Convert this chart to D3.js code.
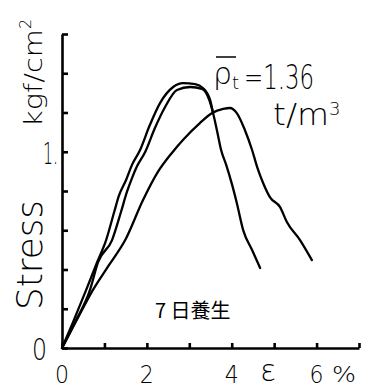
<!DOCTYPE html>
<html><head><meta charset="utf-8">
<script src="https://cdn.jsdelivr.net/npm/d3@7"></script>
<style>body{margin:0;background:#fff;} svg{display:block;}</style>
</head><body>
<svg id="c" width="372" height="390"></svg>
<script>
// curve 1 (outer rising branch)
const c1x = [0,0.26,0.57,0.83,1.04,1.23,1.34,1.51,1.65,1.84,2.07,2.31,2.62,2.85,3.14,3.32,3.49,3.56];
const c1y = [0,0.132,0.296,0.438,0.550,0.693,0.775,0.856,0.933,1.009,1.136,1.248,1.330,1.350,1.345,1.325,1.264,1.197];
// curve 2
const c2x = [0,0.31,0.66,0.85,1.18,1.39,1.53,1.65,1.77,1.96,2.19,2.43,2.71,3.02,3.30,3.47,3.56,3.65,3.75,3.87,4.01,4.12,4.27,4.48,4.67];
const c2y = [0,0.132,0.296,0.438,0.550,0.693,0.795,0.866,0.927,0.999,1.121,1.228,1.315,1.330,1.320,1.264,1.197,1.111,1.009,0.933,0.831,0.739,0.601,0.499,0.408];
// curve 3
const c3x = [0,0.31,0.73,1.11,1.49,1.91,2.26,2.59,2.85,3.25,3.54,3.80,3.96,4.12,4.31,4.48,4.60,4.74,4.90,5.14,5.30,5.61,5.89];
const c3y = [0,0.127,0.296,0.423,0.550,0.754,0.897,0.994,1.060,1.146,1.197,1.218,1.223,1.197,1.111,1.009,0.922,0.841,0.769,0.718,0.642,0.550,0.448];

const xTicks = [0,1,2,3,4,5,6,7];
const xTickLabels = ["0","","2","","4","","6",""];
const yTicks = [0,0.2,0.4,0.6,0.8,1.0,1.2,1.4,1.6];
const yTickLabels = ["0","","","","","1.","","",""];
const xUnit = "%";
const xTitle = "ε";
const yTitle = "Stress";
const yUnit = "kgf/cm";
const densityText = "=1.36";
const densityUnit = "t/m";
const curingText = "7 日養生";

const svg = d3.select("#c");
const x = d3.scaleLinear().domain([0,7]).range([62,359]);
const y = d3.scaleLinear().domain([0,1.6]).range([348,34]);
const font = "'DejaVu Sans', 'Liberation Sans', sans-serif";
const fw = 200;

// axes
const gx = svg.append("g").attr("transform",`translate(0,${y(0)})`)
  .call(d3.axisBottom(x).tickValues(xTicks).tickSizeInner(-5).tickSizeOuter(0).tickFormat(""));
const gy = svg.append("g").attr("transform",`translate(${x(0)},0)`)
  .call(d3.axisLeft(y).tickValues(yTicks).tickSizeInner(-6).tickSizeOuter(0).tickFormat(""));
[gx,gy].forEach(g=>{
  g.select(".domain").attr("stroke","#000").attr("stroke-width",2.6);
  g.selectAll(".tick line").attr("stroke","#000").attr("stroke-width",2.6);
});

// x tick labels
svg.append("g").selectAll("text").data(xTicks.filter((d,i)=>xTickLabels[i]!==""))
  .join("text")
  .attr("x",d=>x(d)).attr("y",383)
  .attr("text-anchor","middle")
  .attr("font-family",font).attr("font-weight",fw).attr("font-size",24)
  .attr("textLength",14).attr("lengthAdjust","spacingAndGlyphs")
  .text(d=>xTickLabels[xTicks.indexOf(d)]);
svg.append("text").attr("x",344).attr("y",382).attr("text-anchor","middle")
  .attr("font-family",font).attr("font-weight",fw).attr("font-size",22)
  .attr("textLength",24).attr("lengthAdjust","spacingAndGlyphs").text(xUnit);
svg.append("text").attr("x",268).attr("y",381).attr("text-anchor","middle")
  .attr("font-family",font).attr("font-weight",fw).attr("font-size",30).text(xTitle);

// y tick labels
svg.append("text").attr("x",47).attr("y",y(0)+12).attr("text-anchor","end")
  .attr("font-family",font).attr("font-weight",fw).attr("font-size",31)
  .attr("textLength",15).attr("lengthAdjust","spacingAndGlyphs").text(yTickLabels[0]);
svg.append("text").attr("x",58).attr("y",y(1.0)+12).attr("text-anchor","end")
  .attr("font-family",font).attr("font-weight",fw).attr("font-size",30)
  .attr("textLength",15).attr("lengthAdjust","spacingAndGlyphs").text(yTickLabels[5]);

// y title
svg.append("text").attr("transform","translate(42,255) rotate(-90)")
  .attr("text-anchor","middle").attr("font-family",font).attr("font-weight",fw).attr("font-size",36)
  .attr("textLength",110).attr("lengthAdjust","spacingAndGlyphs").text(yTitle);
const ku = svg.append("text").attr("transform","translate(42,127) rotate(-90)")
  .attr("text-anchor","start").attr("font-family",font).attr("font-weight",fw).attr("font-size",24);
ku.append("tspan").attr("textLength",98).attr("lengthAdjust","spacingAndGlyphs").text(yUnit);
ku.append("tspan").attr("font-size",16).attr("dy",-11).text("2");

// density annotation
const dg = svg.append("g");
dg.append("text").attr("x",213).attr("y",84).attr("font-family",font).attr("font-weight",fw).attr("font-size",30)
  .text("ρ");
dg.append("line").attr("x1",216).attr("x2",236).attr("y1",57).attr("y2",57).attr("stroke","#000").attr("stroke-width",1.5);
dg.append("text").attr("x",232).attr("y",89).attr("font-family",font).attr("font-weight",fw).attr("font-size",18).text("t");
dg.append("text").attr("x",244).attr("y",89).attr("font-family",font).attr("font-weight",fw).attr("font-size",34)
  .attr("textLength",70).attr("lengthAdjust","spacingAndGlyphs").text(densityText);
const du = dg.append("text").attr("x",273).attr("y",125).attr("font-family",font).attr("font-weight",fw).attr("font-size",30);
du.append("tspan").attr("textLength",56).attr("lengthAdjust","spacingAndGlyphs").text(densityUnit);
du.append("tspan").attr("font-size",18).attr("dy",-10).text("3");

// curing label
svg.append("text").attr("x",155).attr("y",318).attr("font-family","'Noto Sans CJK JP', sans-serif")
  .attr("font-size",20).text(curingText);

// curves
const line = d3.line().x(d=>x(d[0])).y(d=>y(d[1])).curve(d3.curveMonotoneX);
[[c1x,c1y],[c2x,c2y],[c3x,c3y]].forEach(([xs,ys])=>{
  svg.append("path").datum(xs.map((v,i)=>[v,ys[i]]))
    .attr("d",line).attr("fill","none").attr("stroke","#000").attr("stroke-width",2.3)
    .attr("stroke-linejoin","round").attr("stroke-linecap","round");
});
</script>
</body></html>
